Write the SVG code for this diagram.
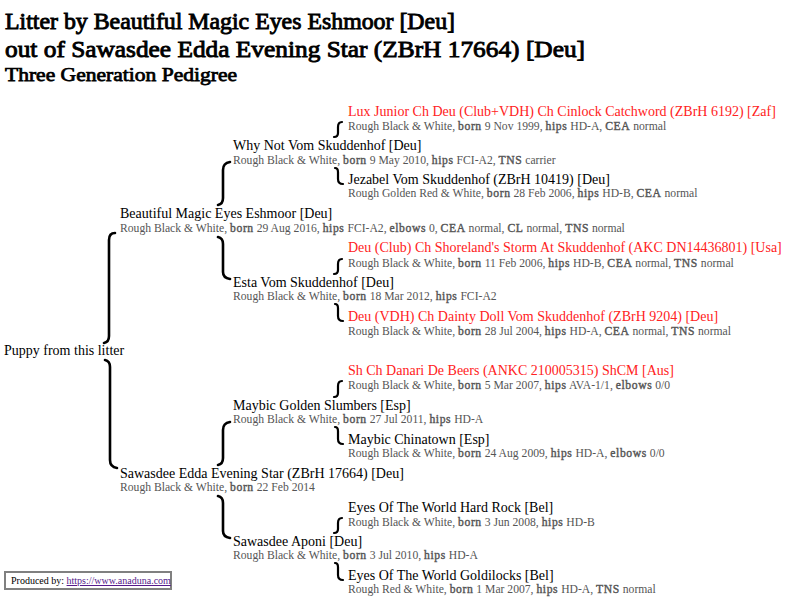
<svg xmlns="http://www.w3.org/2000/svg" width="799" height="611" viewBox="0 0 799 611">
<style>
text{font-family:"Liberation Serif","Times New Roman",serif}
.t1{font-size:24px;fill:#000;stroke:#000;stroke-width:0.9}
.t3{font-size:18.7px;fill:#000;stroke:#000;stroke-width:0.75}
.n{font-size:14px;fill:#000}
.r{font-size:14px;fill:#f22}
.d{font-size:11.65px;fill:#555}
.b{stroke:#555;stroke-width:0.4;letter-spacing:0.6px}
.br{fill:none;stroke:#000;stroke-width:2.6;stroke-linecap:round}
.brs{fill:none;stroke:#000;stroke-width:2.2;stroke-linecap:round}
.foot{font-size:10px;fill:#000}
.link{fill:#551a8b;text-decoration:underline}
</style>
<rect width="799" height="611" fill="#fff"/>
<g id="title">
<text class="t1" x="5" y="29" textLength="450" lengthAdjust="spacingAndGlyphs">Litter by Beautiful Magic Eyes Eshmoor [Deu]</text>
<text class="t1" x="5" y="57" textLength="580" lengthAdjust="spacingAndGlyphs">out of Sawasdee Edda Evening Star (ZBrH 17664) [Deu]</text>
<text class="t3" x="5" y="81" textLength="232" lengthAdjust="spacingAndGlyphs">Three Generation Pedigree</text>
</g>
<g id="connectors">
<path class="br" d="M115,233 Q109,233 109,240 L109,336 Q109,342 104,343"/>
<path class="br" d="M105,360 Q110,361 110,367 L110,460 Q110,467 117,468"/>
<path class="br" d="M230,162 Q223,163 223,170 L223,198 Q223,204 218,205"/>
<path class="br" d="M218,237 Q223,238 223,244 L223,272 Q223,278 230,279"/>
<path class="br" d="M230,422 Q223,423 223,430 L223,458 Q223,464 218,465"/>
<path class="br" d="M218,496 Q223,497 223,503 L223,531 Q223,537 230,538"/>
<path class="brs" d="M342,122 Q338,122 338,127 L338,133 Q338,137 334,137"/>
<path class="brs" d="M335,168 Q338,168 338,172 L338,179 Q338,184 343,184"/>
<path class="brs" d="M342,259 Q338,259 338,264 L338,270 Q338,274 334,274"/>
<path class="brs" d="M335,304 Q338,304 338,308 L338,316 Q338,321 343,321"/>
<path class="brs" d="M342,381 Q338,381 338,386 L338,393 Q338,397 334,397"/>
<path class="brs" d="M335,427 Q338,427 338,431 L338,439 Q338,444 343,444"/>
<path class="brs" d="M342,518 Q338,518 338,523 L338,529 Q338,533 334,533"/>
<path class="brs" d="M335,563 Q338,563 338,567 L338,575 Q338,580 343,580"/>
</g>
<g id="puppy"><text class="n" x="4" y="355">Puppy from this litter</text></g>
<g id="sire">
<text class="n" x="120" y="218">Beautiful Magic Eyes Eshmoor [Deu]</text>
<text class="d" x="120" y="232">Rough Black &amp; White, <tspan class="b">born</tspan> 29 Aug 2016, <tspan class="b">hips</tspan> FCI-A2, <tspan class="b">elbows</tspan> 0, <tspan class="b">CEA</tspan> normal, <tspan class="b">CL</tspan> normal, <tspan class="b">TNS</tspan> normal</text>
</g>
<g id="dam">
<text class="n" x="120" y="478">Sawasdee Edda Evening Star (ZBrH 17664) [Deu]</text>
<text class="d" x="120" y="491">Rough Black &amp; White, <tspan class="b">born</tspan> 22 Feb 2014</text>
</g>
<g id="ss">
<text class="n" x="233" y="150">Why Not Vom Skuddenhof [Deu]</text>
<text class="d" x="233" y="164">Rough Black &amp; White, <tspan class="b">born</tspan> 9 May 2010, <tspan class="b">hips</tspan> FCI-A2, <tspan class="b">TNS</tspan> carrier</text>
</g>
<g id="sd">
<text class="n" x="233" y="287">Esta Vom Skuddenhof [Deu]</text>
<text class="d" x="233" y="300">Rough Black &amp; White, <tspan class="b">born</tspan> 18 Mar 2012, <tspan class="b">hips</tspan> FCI-A2</text>
</g>
<g id="ds">
<text class="n" x="233" y="410">Maybic Golden Slumbers [Esp]</text>
<text class="d" x="233" y="423">Rough Black &amp; White, <tspan class="b">born</tspan> 27 Jul 2011, <tspan class="b">hips</tspan> HD-A</text>
</g>
<g id="dd">
<text class="n" x="233" y="546">Sawasdee Aponi [Deu]</text>
<text class="d" x="233" y="559">Rough Black &amp; White, <tspan class="b">born</tspan> 3 Jul 2010, <tspan class="b">hips</tspan> HD-A</text>
</g>
<g id="sss">
<text class="r" x="348" y="116">Lux Junior Ch Deu (Club+VDH) Ch Cinlock Catchword (ZBrH 6192) [Zaf]</text>
<text class="d" x="348" y="130">Rough Black &amp; White, <tspan class="b">born</tspan> 9 Nov 1999, <tspan class="b">hips</tspan> HD-A, <tspan class="b">CEA</tspan> normal</text>
</g>
<g id="ssd">
<text class="n" x="348" y="184">Jezabel Vom Skuddenhof (ZBrH 10419) [Deu]</text>
<text class="d" x="348" y="197">Rough Golden Red &amp; White, <tspan class="b">born</tspan> 28 Feb 2006, <tspan class="b">hips</tspan> HD-B, <tspan class="b">CEA</tspan> normal</text>
</g>
<g id="sds">
<text class="r" x="348" y="252">Deu (Club) Ch Shoreland's Storm At Skuddenhof (AKC DN14436801) [Usa]</text>
<text class="d" x="348" y="267">Rough Black &amp; White, <tspan class="b">born</tspan> 11 Feb 2006, <tspan class="b">hips</tspan> HD-B, <tspan class="b">CEA</tspan> normal, <tspan class="b">TNS</tspan> normal</text>
</g>
<g id="sdd">
<text class="r" x="348" y="321">Deu (VDH) Ch Dainty Doll Vom Skuddenhof (ZBrH 9204) [Deu]</text>
<text class="d" x="348" y="335">Rough Black &amp; White, <tspan class="b">born</tspan> 28 Jul 2004, <tspan class="b">hips</tspan> HD-A, <tspan class="b">CEA</tspan> normal, <tspan class="b">TNS</tspan> normal</text>
</g>
<g id="dss">
<text class="r" x="348" y="375">Sh Ch Danari De Beers (ANKC 210005315) ShCM [Aus]</text>
<text class="d" x="348" y="389">Rough Black &amp; White, <tspan class="b">born</tspan> 5 Mar 2007, <tspan class="b">hips</tspan> AVA-1/1, <tspan class="b">elbows</tspan> 0/0</text>
</g>
<g id="dsd">
<text class="n" x="348" y="444">Maybic Chinatown [Esp]</text>
<text class="d" x="348" y="457">Rough Black &amp; White, <tspan class="b">born</tspan> 24 Aug 2009, <tspan class="b">hips</tspan> HD-A, <tspan class="b">elbows</tspan> 0/0</text>
</g>
<g id="dds">
<text class="n" x="348" y="512">Eyes Of The World Hard Rock [Bel]</text>
<text class="d" x="348" y="526">Rough Black &amp; White, <tspan class="b">born</tspan> 3 Jun 2008, <tspan class="b">hips</tspan> HD-B</text>
</g>
<g id="ddd">
<text class="n" x="348" y="580">Eyes Of The World Goldilocks [Bel]</text>
<text class="d" x="348" y="593">Rough Red &amp; White, <tspan class="b">born</tspan> 1 Mar 2007, <tspan class="b">hips</tspan> HD-A, <tspan class="b">TNS</tspan> normal</text>
</g>
<g id="footer">
<rect x="5" y="572" width="166" height="17" fill="#fff" stroke="#808080" stroke-width="2"/>
<text class="foot" x="11" y="584">Produced by: <tspan class="link">https://www.anaduna.com</tspan></text>
</g>
</svg>
